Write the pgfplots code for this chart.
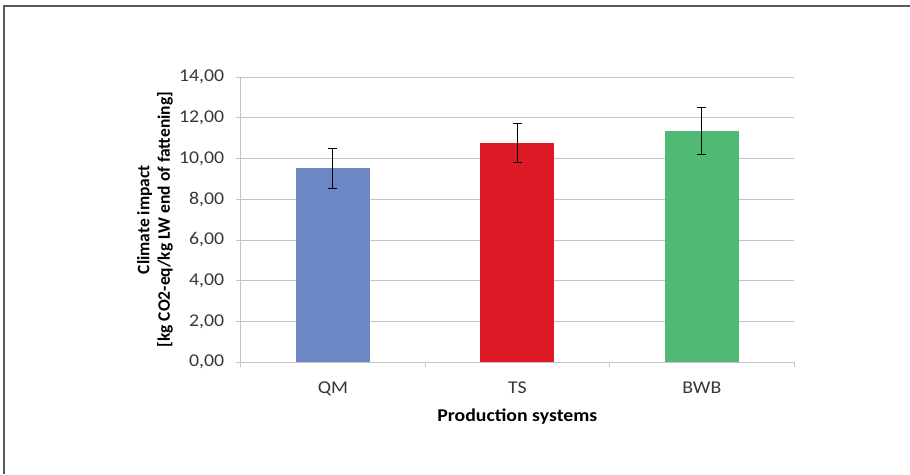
\documentclass[border=0pt]{standalone}
\usepackage{pgfplots}
\pgfplotsset{compat=1.18}
\usepackage{fontspec}
\setmainfont{Carlito}[FakeStretch=1.1]
\newfontfamily\ylfont{Carlito}
\definecolor{cQM}{RGB}{108,135,196}
\definecolor{cTS}{RGB}{220,25,36}
\definecolor{cBWB}{RGB}{80,186,117}
\definecolor{ticktext}{RGB}{55,55,55}
\definecolor{gridc}{RGB}{196,196,196}
\definecolor{framec}{RGB}{90,90,90}
\newcommand{\chartfont}{\fontsize{18pt}{22pt}\selectfont}
\begin{document}
\begin{tikzpicture}[x=1pt,y=1pt]
\path[use as bounding box] (0,0) rectangle (910,474);
\fill[white] (0,0) rectangle (910,474);
\draw[framec, line width=2pt] (3.5,0) -- (3.5,467.5) -- (910,467.5);
\begin{axis}[
  at={(240.7pt,111.7pt)}, anchor=south west,
  scale only axis, width=553.3pt, height=285.3pt,
  xmin=-0.5, xmax=2.5, ymin=0, ymax=14,
  ytick={0,2,...,14},
  xtick={0,1,2}, xticklabels={QM,TS,BWB},
  minor xtick={-0.5,0.5,1.5,2.5},
  axis x line*=bottom, axis y line*=left,
  axis line style={-, color=gridc, line width=0.9pt},
  tick align=outside,
  major tick length=5pt, minor tick length=5pt,
  major x tick style={draw=none},
  every tick/.style={color=gridc, line width=0.9pt},
  ymajorgrids, grid style={gridc, line width=0.9pt},
  /pgf/number format/assume math mode=true,
  yticklabel={\pgfmathprintnumber[fixed,fixed zerofill,precision=2,use comma]{\tick}},
  yticklabel style={font=\chartfont, color=ticktext, anchor=east, xshift=-8pt},
  xticklabel style={font=\chartfont, color=ticktext, anchor=base, yshift=-26pt},
  every axis x label/.style={at={(axis description cs:0.5,0)}, anchor=base, yshift=-59pt, font=\chartfont\bfseries},
  every axis y label/.style={at={(axis description cs:-0.155,0.5)}, rotate=90, anchor=center, align=center, font=\ylfont\fontsize{17.5pt}{20.5pt}\selectfont\bfseries},
  xlabel={Production systems},
  ylabel={Climate impact\\{}[kg CO2-eq/kg LW end of fattening]},
  clip=false,
]
\addplot[ybar, bar width=0.4, bar shift=0pt, fill=cQM, draw=none,
  error bars/.cd, y dir=both, y explicit,
  error bar style={black, line width=0.9pt},
  error mark options={black, rotate=90, mark size=4.5pt, line width=0.9pt}]
  coordinates {(0,9.51) +- (0,0.97)};
\addplot[ybar, bar width=0.4, bar shift=0pt, fill=cTS, draw=none,
  error bars/.cd, y dir=both, y explicit,
  error bar style={black, line width=0.9pt},
  error mark options={black, rotate=90, mark size=4.5pt, line width=0.9pt}]
  coordinates {(1,10.77) +- (0,0.96)};
\addplot[ybar, bar width=0.4, bar shift=0pt, fill=cBWB, draw=none,
  error bars/.cd, y dir=both, y explicit,
  error bar style={black, line width=0.9pt},
  error mark options={black, rotate=90, mark size=4.5pt, line width=0.9pt}]
  coordinates {(2,11.37) +- (0,1.15)};
\end{axis}
\end{tikzpicture}
\end{document}
